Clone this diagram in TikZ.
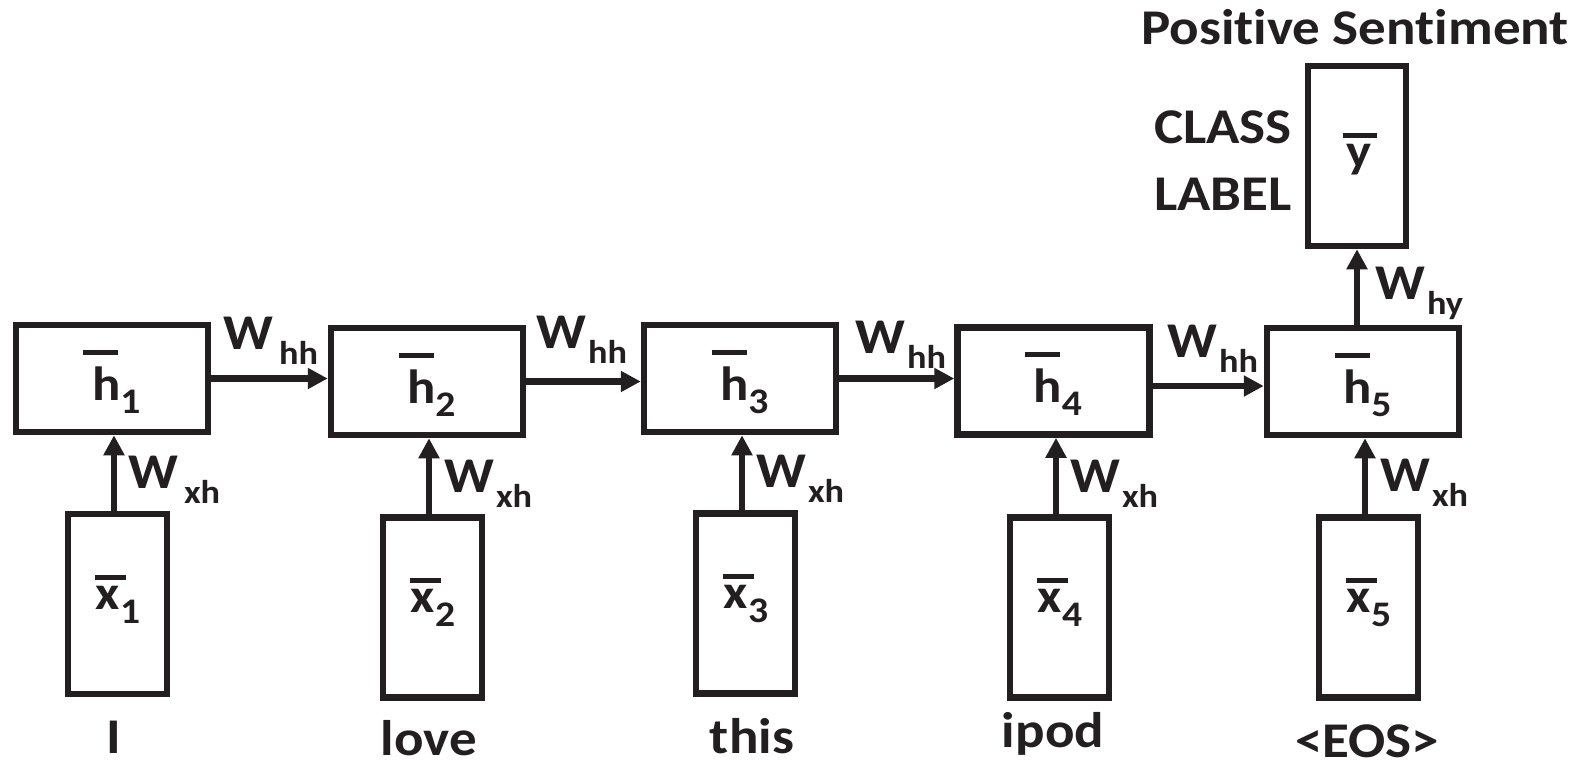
\documentclass[tikz,border=0pt]{standalone}
\usepackage{fontspec}
\setmainfont{Carlito}[FakeStretch=1.1, Ligatures=NoCommon]
\usetikzlibrary{arrows.meta}
\definecolor{ink}{HTML}{231F20}

% barred symbol: #1 letter offset, #2 bar width, #3 bar raise, #4 letter, #5 index, #6 index drop
\newcommand\barsym[6]{%
  \makebox[0pt][l]{\raisebox{#3}{\rule{#2}{5pt}}}\hspace*{#1}#4%
  \raisebox{-#6}{\fontsize{36pt}{36pt}\selectfont #5}}
% weight label W with index
\newcommand\wlab[2][2pt]{W\kern#1\raisebox{-15pt}{\fontsize{33pt}{33pt}\selectfont #2}}

\tikzset{
  every node/.style={text=ink, inner sep=0pt, font=\bfseries\fontsize{50pt}{60pt}\selectfont},
  cell/.style={draw=ink, line width=6.5pt, font=\bfseries\fontsize{48pt}{48pt}\selectfont},
  hcell/.style={cell, minimum width=192pt, minimum height=107pt, text height=50pt, text depth=7pt},
  xcell/.style={cell, minimum width=99pt, minimum height=180pt, text height=35pt, text depth=25pt},
  ycell/.style={cell, minimum width=98pt, minimum height=180pt, text height=40pt, text depth=18pt},
  arr/.style={draw=ink, line width=6.5pt, -{Triangle[length=20pt,width=20pt]}},
  wl/.style={anchor=base west},
  word/.style={anchor=base, text depth=0pt},
}

\newcommand\hsym[1]{\barsym{8.6pt}{35pt}{45.5pt}{h}{#1}{13pt}}
\newcommand\xsym[1]{\barsym{1pt}{31pt}{29.5pt}{x}{#1}{14pt}}

\begin{document}
\begin{tikzpicture}[x=1pt, y=-1pt]
  \useasboundingbox (0,0) rectangle (1576,761);

  % hidden states
  \node[hcell] (h1) at (112,378.5)  {\hsym{1}};
  \node[hcell] (h2) at (427,381.5)  {\hsym{2}};
  \node[hcell] (h3) at (740,378.5)  {\hsym{3}};
  \node[hcell] (h4) at (1053.5,381) {\hsym{4}};
  \node[hcell] (h5) at (1363,381.5) {\hsym{5}};

  % inputs
  \node[xcell] (x1) at (117.5,604)   {\xsym{1}};
  \node[xcell] (x2) at (432.5,607.5) {\xsym{2}};
  \node[xcell] (x3) at (745.5,603.5) {\xsym{3}};
  \node[xcell] (x4) at (1059.5,607.5) {\xsym{4}};
  \node[xcell] (x5) at (1368.5,607.5) {\xsym{5}};

  % output
  \node[ycell] (y) at (1357,156) {\barsym{4pt}{34pt}{29.5pt}{y}{}{0pt}};

  % recurrent connections
  \draw[arr] (h1.east) -- (h1.east -| h2.west);
  \draw[arr] (h2.east) -- (h2.east -| h3.west);
  \draw[arr] (h3.east) -- (h3.east -| h4.west);
  \coordinate (r4) at ([yshift=-5pt]h4.east);
  \draw[arr] (r4) -- (r4 -| h5.west);

  % input connections
  \foreach \i in {1,...,5} {
    \coordinate (a\i) at ([xshift=-3.5pt]x\i.north);
    \draw[arr] (a\i) -- (a\i |- h\i.south);
  }

  % output connection
  \draw[arr] (y.south |- h5.north) -- (y.south);

  % weight labels
  \node[wl] (whh1) at (223,349)  {\wlab[6pt]{hh}};
  \node[wl] (whh2) at (536,348)  {\wlab{hh}};
  \node[wl] (whh3) at (855,353)  {\wlab{hh}};
  \node[wl] (whh4) at (1167,357) {\wlab{hh}};
  \node[wl] (wxh1) at (128,488)  {\wlab[6pt]{xh}};
  \node[wl] (wxh2) at (444,492)  {\wlab{xh}};
  \node[wl] (wxh3) at (756,487)  {\wlab{xh}};
  \node[wl] (wxh4) at (1070,492) {\wlab{xh}};
  \node[wl] (wxh5) at (1380,491) {\wlab{xh}};
  \node[wl] (why)  at (1375,299) {\wlab{hy}};

  % words
  \node[word] (wI)    at (114,753)  {I};
  \node[word] (wlove) at (429,755)  {love};
  \node[word] (wthis) at (752,753)  {this};
  \node[word] (wipod) at (1053,747) {ipod};
  \node[word] (weos)  at (1367,757) {<EOS>};

  % class label
  \node[word] (title) at (1355,44) {Positive Sentiment};
  \node[anchor=base east] (cls) at (1292,143) {CLASS};
  \node[anchor=base east] (lbl) at (1292,210) {LABEL};
\end{tikzpicture}
\end{document}
